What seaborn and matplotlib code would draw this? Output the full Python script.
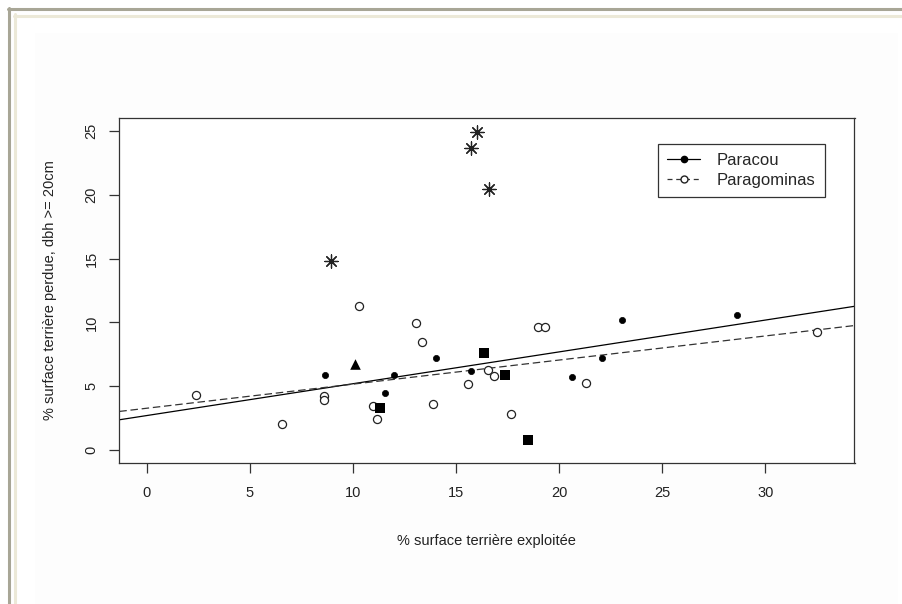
import numpy as np
import matplotlib.pyplot as plt
import seaborn as sns
from matplotlib.lines import Line2D
from matplotlib.patches import Rectangle

# Paracou (points pleins)
paracou_x = [8.66, 12.0, 11.57, 14.04, 15.72, 20.63, 22.08, 23.05, 28.63]
paracou_y = [5.90, 5.90, 4.47, 7.19, 6.17, 5.72, 7.19, 10.16, 10.58]

# Paragominas (cercles vides)
paragominas_x = [10.3, 13.04, 13.36, 18.98, 19.31, 16.53, 16.82, 15.56, 8.61,
                 8.61, 10.97, 11.15, 13.88, 17.66, 21.31, 2.39, 6.56, 32.5]
paragominas_y = [11.29, 9.93, 8.46, 9.66, 9.66, 6.25, 5.82, 5.15, 4.23,
                 3.89, 3.45, 2.43, 3.60, 2.82, 5.23, 4.29, 2.06, 9.27]

# autres parcelles (carres, triangle, etoiles)
carres_x = [16.35, 17.37, 11.34, 18.47]
carres_y = [7.58, 5.85, 3.27, 0.78]
triangle_x = [10.1]
triangle_y = [6.74]
etoiles_x = [16.0, 15.72, 16.6, 8.92]
etoiles_y = [24.95, 23.69, 20.48, 14.81]

x_ticks = [0, 5, 10, 15, 20, 25, 30]
y_ticks = [0, 5, 10, 15, 20, 25]

sns.set_style('white')
plt.rcParams['font.family'] = ['Liberation Sans', 'DejaVu Sans']

W, H = 903, 604
fig = plt.figure(figsize=(W / 100, H / 100), dpi=100)
fig.patch.set_facecolor('white')

# cadre de la fenetre
fig.add_artist(Rectangle((35 / W, 0), (898 - 35) / W, 1 - 33 / H,
                         transform=fig.transFigure, facecolor='#fdfdfd',
                         edgecolor='none', zorder=-5))
fig.add_artist(Line2D([8 / W, 1], [1 - 9 / H] * 2, transform=fig.transFigure,
                      color='#a8a696', lw=2.2))
fig.add_artist(Line2D([9 / W] * 2, [0, 1 - 8 / H], transform=fig.transFigure,
                      color='#a8a696', lw=2.2))
fig.add_artist(Line2D([14 / W, 1], [1 - 15.5 / H] * 2, transform=fig.transFigure,
                      color='#ece9d8', lw=2.2))
fig.add_artist(Line2D([15 / W] * 2, [0, 1 - 14 / H], transform=fig.transFigure,
                      color='#ece9d8', lw=2.2))

left, right, top, bottom = 119.3, 854.5, 118.3, 462.7
ax = fig.add_axes([left / W, 1 - bottom / H, (right - left) / W, (bottom - top) / H])
ax.set_facecolor('white')

xlim = (-1.32, 34.32)
ylim = (-1.0, 26.0)
ax.set_xlim(xlim)
ax.set_ylim(ylim)

# droites de regression
sns.regplot(x=paracou_x, y=paracou_y, scatter=False, ci=None, truncate=False,
            ax=ax, line_kws=dict(color='black', lw=0.9))
sns.regplot(x=paragominas_x, y=paragominas_y, scatter=False, ci=None, truncate=False,
            ax=ax, line_kws=dict(color='#333333', lw=0.9, dashes=(6, 3)))

sns.scatterplot(x=paracou_x, y=paracou_y, ax=ax, marker='o', s=20,
                color='black', edgecolor='black', linewidth=0.5, zorder=3)
sns.scatterplot(x=paragominas_x, y=paragominas_y, ax=ax, marker='o', s=34,
                facecolor='white', edgecolor='#222222', linewidth=0.9, zorder=3)
sns.scatterplot(x=carres_x, y=carres_y, ax=ax, marker='s', s=46,
                color='black', edgecolor='black', linewidth=0, zorder=3)
sns.scatterplot(x=triangle_x, y=triangle_y, ax=ax, marker='^', s=58,
                color='black', edgecolor='black', linewidth=0, zorder=3)
sns.scatterplot(x=etoiles_x, y=etoiles_y, ax=ax, marker=(8, 2, 0), s=90,
                color='#222222', edgecolor='#222222', linewidth=0.9, zorder=3)

ax.set_xlim(xlim)
ax.set_ylim(ylim)
ax.set_xticks(x_ticks)
ax.set_yticks(y_ticks)
ax.set_yticklabels([str(v) for v in y_ticks], rotation=90, va='center')

for sp in ax.spines.values():
    sp.set_visible(True)
    sp.set_color('#333333')
    sp.set_linewidth(0.9)

ax.tick_params(axis='both', direction='out', length=7, width=0.9, color='#333333',
               labelsize=10.5, labelcolor='#222222', bottom=True, left=True)
ax.tick_params(axis='x', pad=10)
ax.tick_params(axis='y', pad=8)

ax.set_xlabel('% surface terrière exploitée', fontsize=10.5, color='#222222', labelpad=24)
ax.set_ylabel('% surface terrière perdue, dbh >= 20cm', fontsize=10.5, color='#222222',
              labelpad=20)

handles = [
    Line2D([], [], color='black', lw=0.9, marker='o', markersize=4.5,
           markerfacecolor='black', markeredgecolor='black'),
    Line2D([], [], color='#333333', lw=0.9, dashes=(4, 3), marker='o', markersize=5,
           markerfacecolor='white', markeredgecolor='#222222'),
]
leg = ax.legend(handles, ['Paracou', 'Paragominas'], loc='upper right',
                bbox_to_anchor=(825 / W, 1 - 144 / H), bbox_transform=fig.transFigure,
                borderaxespad=0, fontsize=12, frameon=True, fancybox=False,
                handlelength=2.0, handletextpad=1.0, borderpad=0.55,
                labelspacing=0.3)
leg.get_frame().set_edgecolor('black')
leg.get_frame().set_linewidth(0.9)
leg.get_frame().set_facecolor('white')

fig.savefig('out.png', dpi=100, facecolor=fig.get_facecolor())
